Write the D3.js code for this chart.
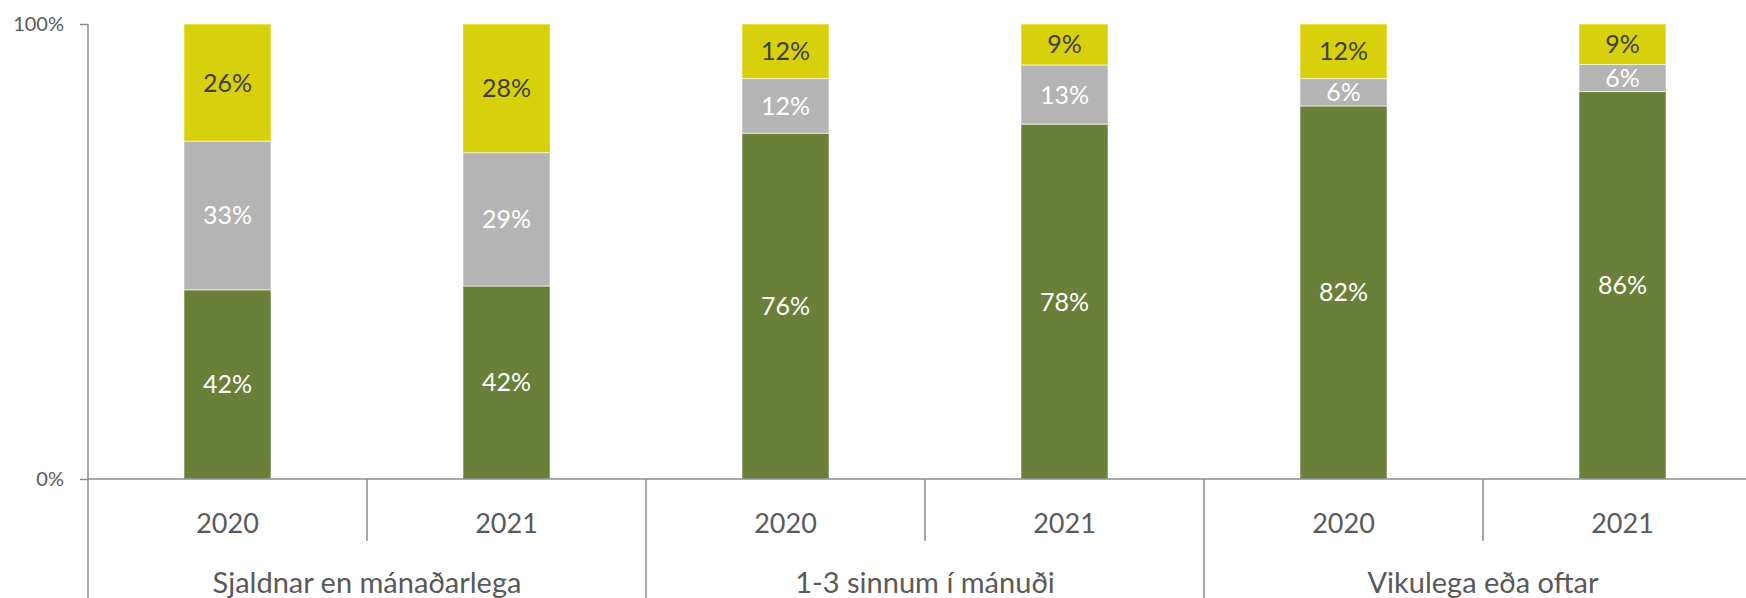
<!DOCTYPE html>
<html>
<head>
<meta charset="utf-8">
<script src="https://cdn.jsdelivr.net/npm/d3@7"></script>
<style>
  body { margin: 0; background: #fff; }
  svg { display: block; font-family: Lato, "Open Sans", sans-serif; }
</style>
</head>
<body>
<div id="chart"></div>
<script>
// categories
var groups = ["Sjaldnar en mánaðarlega", "1-3 sinnum í mánuði", "Vikulega eða oftar"];
var years = ["2020", "2021"];
// series values (percent, per bar in order group x year)
var seriesGreen = [42, 42, 76, 78, 82, 86];
var seriesGray = [33, 29, 12, 13, 6, 6];
var seriesYellow = [26, 28, 12, 9, 12, 9];
var yTicks = [0, 1];

var seriesKeys = ["green", "gray", "yellow"];
var colors = { green: "#6a7f37", gray: "#b4b4b4", yellow: "#d7d00a" };
var labelColors = { green: "#ffffff", gray: "#ffffff", yellow: "#404040" };

// build rows
var rows = [];
groups.forEach(function(g, gi) {
  years.forEach(function(y, yi) {
    var i = gi * years.length + yi;
    rows.push({ id: i, group: g, year: y, green: seriesGreen[i], gray: seriesGray[i], yellow: seriesYellow[i] });
  });
});

var W = 1746, H = 598;
var plotLeft = 88, plotRight = 1762, plotTop = 24, plotBottom = 479;

var svg = d3.select("#chart").append("svg")
    .attr("width", W)
    .attr("height", H);

var x = d3.scaleBand()
    .domain(rows.map(function(d) { return d.id; }))
    .range([plotLeft, plotRight])
    .padding(0);

var xg = d3.scaleBand()
    .domain(groups)
    .range([plotLeft, plotRight])
    .padding(0);

var y = d3.scaleLinear()
    .domain([0, 1])
    .range([plotBottom, plotTop]);

var stack = d3.stack().keys(seriesKeys).offset(d3.stackOffsetExpand);
var stacked = stack(rows);

var barW = x.bandwidth() * 0.312;
var axisColor = "#8c8c8c";

// bars
var layer = svg.selectAll(".layer")
    .data(stacked)
    .enter().append("g")
    .attr("class", "layer")
    .attr("fill", function(d) { return colors[d.key]; });

layer.selectAll("rect")
    .data(function(d) { return d; })
    .enter().append("rect")
    .attr("x", function(d) { return x(d.data.id) + (x.bandwidth() - barW) / 2; })
    .attr("y", function(d) { return y(d[1]); })
    .attr("width", barW)
    .attr("height", function(d) { return y(d[0]) - y(d[1]); })
    .attr("stroke", "#ffffff")
    .attr("stroke-opacity", 0.6)
    .attr("stroke-width", 1);

// labels
stacked.forEach(function(s) {
  svg.append("g").selectAll("text")
      .data(s)
      .enter().append("text")
      .attr("x", function(d) { return x(d.data.id) + x.bandwidth() / 2; })
      .attr("y", function(d) { return (y(d[0]) + y(d[1])) / 2; })
      .attr("dy", "0.36em")
      .attr("text-anchor", "middle")
      .attr("font-size", "25px")
      .attr("fill", labelColors[s.key])
      .text(function(d) { return d.data[s.key] + "%"; });
});

// y axis
var yAxis = svg.append("g")
    .attr("transform", "translate(" + plotLeft + ",0)")
    .call(d3.axisLeft(y).tickValues(yTicks).tickFormat(d3.format(".0%")).tickSize(8).tickPadding(16));
yAxis.select(".domain").remove();
yAxis.selectAll("line").attr("stroke", axisColor).attr("stroke-width", 1.5);
yAxis.selectAll("text").attr("font-size", "20px").attr("fill", "#595959").attr("font-family", "Lato, sans-serif");

svg.append("line")
    .attr("x1", plotLeft).attr("x2", plotLeft)
    .attr("y1", plotTop).attr("y2", H)
    .attr("stroke", axisColor).attr("stroke-width", 1.5);

// x axis line
svg.append("line")
    .attr("x1", plotLeft).attr("x2", plotRight)
    .attr("y1", plotBottom).attr("y2", plotBottom)
    .attr("stroke", axisColor).attr("stroke-width", 1.5);

// year separators (inside groups)
groups.forEach(function(g) {
  svg.append("line")
      .attr("x1", xg(g) + xg.bandwidth() / 2).attr("x2", xg(g) + xg.bandwidth() / 2)
      .attr("y1", plotBottom).attr("y2", 541)
      .attr("stroke", axisColor).attr("stroke-width", 1.5);
});

// group separators
groups.slice(1).forEach(function(g) {
  svg.append("line")
      .attr("x1", xg(g)).attr("x2", xg(g))
      .attr("y1", plotBottom).attr("y2", H)
      .attr("stroke", axisColor).attr("stroke-width", 1.5);
});

// year labels
svg.append("g").selectAll("text")
    .data(rows)
    .enter().append("text")
    .attr("x", function(d) { return x(d.id) + x.bandwidth() / 2; })
    .attr("y", 533)
    .attr("text-anchor", "middle")
    .attr("font-size", "27px")
    .attr("fill", "#595959")
    .text(function(d) { return d.year; });

// group labels
svg.append("g").selectAll("text")
    .data(groups)
    .enter().append("text")
    .attr("x", function(d) { return xg(d) + xg.bandwidth() / 2; })
    .attr("y", 593)
    .attr("text-anchor", "middle")
    .attr("font-size", "29px")
    .attr("fill", "#595959")
    .text(function(d) { return d; });
</script>
</body>
</html>
